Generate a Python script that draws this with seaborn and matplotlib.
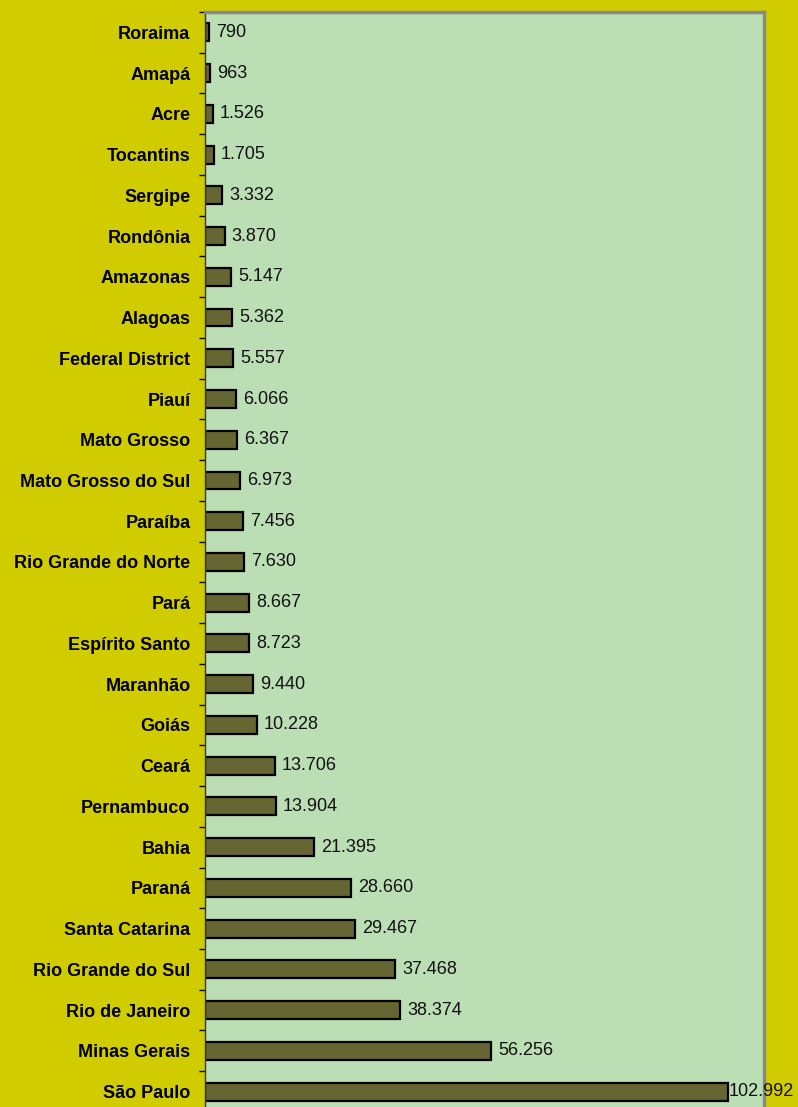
import matplotlib
matplotlib.use("Agg")
import matplotlib.pyplot as plt
import seaborn as sns
import pandas as pd
from matplotlib.ticker import FixedLocator

states = [
    "Roraima", "Amapá", "Acre", "Tocantins", "Sergipe", "Rondônia", "Amazonas",
    "Alagoas", "Federal District", "Piauí", "Mato Grosso", "Mato Grosso do Sul",
    "Paraíba", "Rio Grande do Norte", "Pará", "Espírito Santo", "Maranhão",
    "Goiás", "Ceará", "Pernambuco", "Bahia", "Paraná", "Santa Catarina",
    "Rio Grande do Sul", "Rio de Janeiro", "Minas Gerais", "São Paulo",
]
values = [
    790, 963, 1526, 1705, 3332, 3870, 5147, 5362, 5557, 6066, 6367, 6973,
    7456, 7630, 8667, 8723, 9440, 10228, 13706, 13904, 21395, 28660, 29467,
    37468, 38374, 56256, 102992,
]

df = pd.DataFrame({"state": states, "value": values})

sns.set_theme(style="white")
plt.rcParams["font.family"] = ["Liberation Sans", "DejaVu Sans"]

fig = plt.figure(figsize=(7.98, 11.07), dpi=100, facecolor="#D0CC00")
ax = fig.add_axes([0.2569, -0.0045, 0.7005, 0.9937])
ax.set_facecolor("#BCDEB4")

sns.barplot(data=df, x="value", y="state", orient="h", color="#666633",
            saturation=1, width=0.44, edgecolor="black", linewidth=1.6, ax=ax)

ax.set_xlim(0, 110000)
ax.set_ylim(len(states) - 0.5, -0.5)
ax.set_xlabel("")
ax.set_ylabel("")
ax.set_xticks([])

# category labels, with tick marks between the categories
ax.tick_params(axis="y", which="major", length=0, pad=10.5)
ax.yaxis.set_minor_locator(FixedLocator([i + 0.5 for i in range(-1, len(states))]))
ax.tick_params(axis="y", which="minor", length=4.5, width=1, color="black", direction="out", left=True)
for lbl in ax.get_yticklabels():
    lbl.set_fontweight("bold")
    lbl.set_fontsize(13)
    lbl.set_color("black")

# value labels at the end of each bar, Brazilian thousands separator
for i, v in enumerate(values):
    txt = f"{v:,}".replace(",", ".")
    pad = 0 if v == max(values) else 7
    ax.annotate(txt, xy=(v, i), xytext=(pad, 0), textcoords="offset pixels",
                ha="left", va="center", fontsize=13, color="#111111",
                annotation_clip=False)

for side in ["top", "right"]:
    ax.spines[side].set_color("#888888")
    ax.spines[side].set_linewidth(2.5)
ax.spines["left"].set_color("#333333")
ax.spines["left"].set_linewidth(1)
ax.spines["bottom"].set_visible(False)

fig.savefig("out.png", dpi=100, facecolor=fig.get_facecolor())
